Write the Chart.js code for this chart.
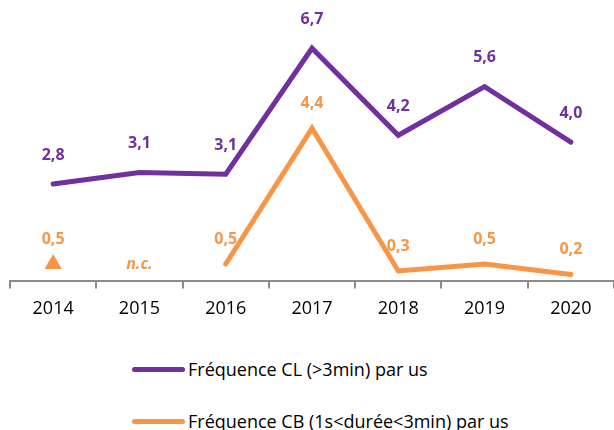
<!DOCTYPE html>
<html>
<head>
<meta charset="utf-8">
<script src="https://cdn.jsdelivr.net/npm/chart.js@4/dist/chart.umd.min.js"></script>
<style>
  body { margin: 0; background: #fff; font-family: "Open Sans", sans-serif; }
  #wrap { position: relative; width: 614px; height: 430px; overflow: hidden; }
  #chartBox { position: absolute; left: 0; top: 0; width: 624px; height: 330px; }
  .leg { position: absolute; left: 132px; height: 22px; display: flex; align-items: center; font-size: 18px; color: #000; }
  .leg span.sw { display: inline-block; width: 53px; height: 5px; border-radius: 3px; margin-right: 3px; }
</style>
</head>
<body>
<div id="wrap">
  <div id="chartBox"><canvas id="freqChart"></canvas></div>
  <div class="leg" style="top:358px"><span class="sw" style="background:#7030A0"></span>Fréquence CL (&gt;3min) par us</div>
  <div class="leg" style="top:410px"><span class="sw" style="background:#F79646"></span>Fréquence CB (1s&lt;durée&lt;3min) par us</div>
</div>
<script>
// data
const years = ["2014", "2015", "2016", "2017", "2018", "2019", "2020"];
const freqCL = [2.8, 3.13, 3.08, 6.7, 4.2, 5.6, 4.0];
const freqCB = [0.5, null, 0.5, 4.4, 0.3, 0.5, 0.2];

const purple = "#7030A0";
const orange = "#F79646";

// labels above each point, "n.c." where there's no value
const valueLabels = {
  id: "valueLabels",
  afterDatasetsDraw(chart) {
    const ctx = chart.ctx;
    const yScale = chart.scales.y;
    ctx.save();
    ctx.textAlign = "center";
    ctx.textBaseline = "middle";
    chart.data.datasets.forEach((ds, i) => {
      const meta = chart.getDatasetMeta(i);
      meta.data.forEach((pt, j) => {
        const v = ds.data[j];
        ctx.fillStyle = ds.borderColor;
        if (v === null) {
          ctx.font = "italic bold 16px 'Open Sans'";
          ctx.fillText("n.c.", pt.x, yScale.getPixelForValue(0.5));
          return;
        }
        ctx.font = "bold 16px 'Open Sans'";
        ctx.fillText(v.toFixed(1).replace(".", ","), pt.x, pt.y - (i == 0 ? 29 : 25));
      });
    });
    ctx.restore();
  }
};

const ctx = document.getElementById("freqChart").getContext("2d");
new Chart(ctx, {
  type: "line",
  data: {
    labels: years,
    datasets: [
      {
        label: "Fréquence CL (>3min) par us",
        data: freqCL,
        borderColor: purple,
        backgroundColor: purple,
        borderWidth: 5,
        borderCapStyle: "round",
        pointRadius: 0,
        tension: 0
      },
      {
        label: "Fréquence CB (1s<durée<3min) par us",
        data: freqCB,
        borderColor: orange,
        backgroundColor: orange,
        borderWidth: 5,
        borderCapStyle: "round",
        pointStyle: "triangle",
        pointRadius: [10, 0, 0, 0, 0, 0, 0],
        pointBorderWidth: 0,
        spanGaps: false,
        tension: 0
      }
    ]
  },
  options: {
    responsive: true,
    maintainAspectRatio: false,
    animation: false,
    layout: { padding: { left: 9, right: 0, top: 0, bottom: 0 } },
    plugins: {
      legend: { display: false },
      tooltip: { enabled: false }
    },
    scales: {
      x: {
        offset: true,
        border: { display: true, color: "#8c8c8c", width: 2 },
        grid: { display: true, drawOnChartArea: false, drawTicks: true, tickLength: 7, color: "#8c8c8c", lineWidth: 2, offset: true },
        ticks: { color: "#000", font: { family: "Open Sans", size: 18 }, padding: 10 }
      },
      y: {
        display: false,
        min: 0,
        max: 7.8
      }
    }
  },
  plugins: [valueLabels]
});
</script>
</body>
</html>
